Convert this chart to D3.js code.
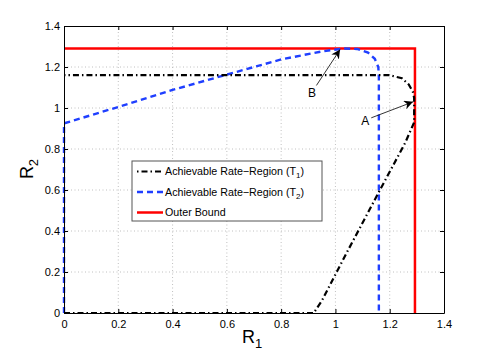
<!DOCTYPE html>
<html lang="en">
<head>
<meta charset="UTF-8">
<title>Rate Region</title>
<script src="https://cdnjs.cloudflare.com/ajax/libs/d3/7.9.0/d3.min.js"></script>
<style>
    body { margin: 0; background: white; }
    svg { display: block; font-family: "Liberation Sans", Arial, Helvetica, sans-serif; }
    .grid line { stroke: #b0b0b0; stroke-width: 0.8; stroke-dasharray: 1,2.5; }
    .axis text { font-size: 11px; fill: #000; }
    .axis path, .axis line { stroke: #000; }
</style>
</head>
<body>
<svg id="chart" width="491" height="355"></svg>
<script>
    // tick values
    const xTicks = [0, 0.2, 0.4, 0.6, 0.8, 1, 1.2, 1.4];
    const yTicks = [0, 0.2, 0.4, 0.6, 0.8, 1, 1.2, 1.4];

    // Achievable rate-region (T1), black dash-dot
    const t1X = [0, 0.92, 0.92, 0.95, 1.04, 1.16, 1.257, 1.29, 1.29, 1.285, 1.27, 1.245, 1.2, 0];
    const t1Y = [0, 0, 0, 0.06, 0.29, 0.59, 0.83, 0.93, 1.05, 1.08, 1.115, 1.145, 1.16, 1.16];

    // Achievable rate-region (T2), blue dashed
    const t2X = [0, 0, 0.2, 0.4, 0.6, 0.8, 0.95, 1.03, 1.08, 1.12, 1.145, 1.158, 1.16, 1.16];
    const t2Y = [0, 0.925, 1.005, 1.088, 1.163, 1.237, 1.276, 1.29, 1.288, 1.27, 1.24, 1.2, 1.15, 0];

    // outer bound, red solid
    const obX = [0, 1.293, 1.293];
    const obY = [1.29, 1.29, 0];

    // annotations: label position, arrow tail, arrow head
    const notes = [
        {label: 'B', tx: 0.914, ty: 1.075, x0: 0.93, y0: 1.11, x1: 1.017, y1: 1.285},
        {label: 'A', tx: 1.11, ty: 0.94, x0: 1.132, y0: 0.952, x1: 1.286, y1: 1.03}
    ];

    const svg = d3.select('#chart');
    const margin = {left: 64, right: 47, top: 26, bottom: 42};
    const W = 491, H = 355;
    const x = d3.scaleLinear().domain([0, 1.4]).range([margin.left, W - margin.right]);
    const y = d3.scaleLinear().domain([0, 1.4]).range([H - margin.bottom, margin.top]);

    // grid
    const grid = svg.append('g').attr('class', 'grid');
    grid.selectAll('.gx').data(xTicks.slice(1, -1)).enter().append('line')
        .attr('x1', d => x(d)).attr('x2', d => x(d))
        .attr('y1', y(0)).attr('y2', y(1.4));
    grid.selectAll('.gy').data(yTicks.slice(1, -1)).enter().append('line')
        .attr('y1', d => y(d)).attr('y2', d => y(d))
        .attr('x1', x(0)).attr('x2', x(1.4));

    const zip = (xs, ys) => xs.map((v, i) => [v, ys[i]]);
    const line = d3.line().x(d => x(d[0])).y(d => y(d[1]));

    svg.append('path').datum(zip(obX, obY)).attr('d', line)
        .attr('fill', 'none').attr('stroke', '#ff0000').attr('stroke-width', 2.5);
    svg.append('path').datum(zip(t2X, t2Y)).attr('d', line)
        .attr('fill', 'none').attr('stroke', '#1f3fff').attr('stroke-width', 2.4)
        .attr('stroke-dasharray', '6,4');
    svg.append('path').datum(zip(t1X, t1Y)).attr('d', line)
        .attr('fill', 'none').attr('stroke', '#000').attr('stroke-width', 2.2)
        .attr('stroke-dasharray', '6,3,1.5,3');

    // axes box with inward ticks
    svg.append('g').attr('class', 'axis').attr('transform', `translate(0,${y(0)})`)
        .call(d3.axisBottom(x).tickValues(xTicks).tickSizeInner(-4).tickSizeOuter(0).tickPadding(7).tickFormat(d3.format('')));
    svg.append('g').attr('class', 'axis').attr('transform', `translate(${x(0)},0)`)
        .call(d3.axisLeft(y).tickValues(yTicks).tickSizeInner(-4).tickSizeOuter(0).tickPadding(4).tickFormat(d3.format('')));
    svg.append('g').attr('class', 'axis').attr('transform', `translate(0,${y(1.4)})`)
        .call(d3.axisTop(x).tickValues(xTicks).tickSizeInner(-4).tickSizeOuter(0).tickFormat(''));
    svg.append('g').attr('class', 'axis').attr('transform', `translate(${x(1.4)},0)`)
        .call(d3.axisRight(y).tickValues(yTicks).tickSizeInner(-4).tickSizeOuter(0).tickFormat(''));

    // annotations
    svg.append('defs').append('marker').attr('id', 'arr')
        .attr('viewBox', '0 0 10 10').attr('refX', 10).attr('refY', 5)
        .attr('markerWidth', 9).attr('markerHeight', 9).attr('markerUnits', 'userSpaceOnUse')
        .attr('orient', 'auto')
        .append('path').attr('d', 'M0,0 L10,5 L0,10 L3,5 Z').attr('fill', '#000');
    notes.forEach(n => {
        svg.append('line').attr('x1', x(n.x0)).attr('y1', y(n.y0))
            .attr('x2', x(n.x1)).attr('y2', y(n.y1))
            .attr('stroke', '#000').attr('stroke-width', 0.8).attr('marker-end', 'url(#arr)');
        svg.append('text').attr('x', x(n.tx)).attr('y', y(n.ty)).attr('text-anchor', 'middle')
            .attr('dy', '0.35em').attr('font-size', 12).text(n.label);
    });

    // axis labels
    const xl = svg.append('text').attr('x', 252).attr('y', 343).attr('text-anchor', 'middle').attr('font-size', 18);
    xl.append('tspan').text('R');
    xl.append('tspan').attr('font-size', 13).attr('dy', 5).text('1');
    const ylab = svg.append('text').attr('transform', 'translate(33,169) rotate(-90)')
        .attr('text-anchor', 'middle').attr('font-size', 18);
    ylab.append('tspan').text('R');
    ylab.append('tspan').attr('font-size', 13).attr('dy', 5).text('2');

    // legend
    const legendItems = [
        {name: 'Achievable Rate\u2212Region (T', sub: '1', color: '#000', dash: '1.5,3,6,3', w: 2.2},
        {name: 'Achievable Rate\u2212Region (T', sub: '2', color: '#1f3fff', dash: '6,4', w: 2.4},
        {name: 'Outer Bound', sub: null, color: '#ff0000', dash: null, w: 2.5}
    ];
    const lg = svg.append('g').attr('transform', 'translate(132,161)');
    lg.append('rect').attr('width', 190).attr('height', 60).attr('fill', '#fff')
        .attr('stroke', '#555').attr('stroke-width', 1);
    legendItems.forEach((d, i) => {
        const yy = 10.5 + i * 20.5;
        lg.append('line').attr('x1', 5).attr('x2', 31).attr('y1', yy).attr('y2', yy)
            .attr('stroke', d.color).attr('stroke-width', d.w)
            .attr('stroke-dasharray', d.dash);
        const t = lg.append('text').attr('x', 33).attr('y', yy).attr('dy', '0.35em').attr('font-size', 10.7);
        t.append('tspan').text(d.name);
        if (d.sub) {
            t.append('tspan').attr('font-size', 8).attr('dy', 3).text(d.sub);
            t.append('tspan').attr('dy', -3).text(')');
        }
    });
</script>
</body>
</html>
